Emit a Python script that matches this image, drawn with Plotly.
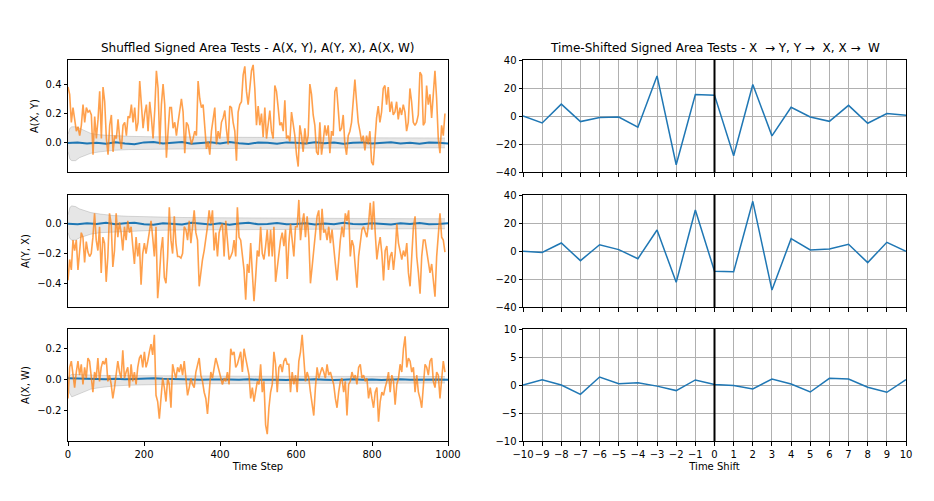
import numpy as np
import plotly.graph_objects as go

# ---------------- data ----------------
a_xy = [0.38, 0.33, 0.14, 0.24, 0.16, 0.08, 0.11, 0.05, 0.12, 0.26, 0.14, 0.24, 0.21, 0.22, 0.19, -0.08, 0.18, 0.03, 0.16, 0.35,
        0.03, 0.38, 0.28, 0.03, -0.08, 0.12, 0.19, -0.06, 0.05, 0.03, 0.16, 0.03, -0.04, 0.12, 0.14, 0.05, 0.18, 0.17, 0.26, 0.14,
        0.24, 0.08, 0.14, 0.42, 0.26, 0.10, 0.20, 0.26, 0.08, 0.28, 0.17, 0.03, 0.22, 0.49, 0.37, -0.01, 0.26, 0.40, 0.26, -0.10,
        0.08, 0.24, 0.24, 0.10, 0.14, 0.05, 0.14, 0.24, 0.30, 0.21, -0.07, 0.14, 0.12, 0.05, -0.01, 0.03, 0.08, 0.05, 0.42, 0.30,
        0.24, 0.26, 0.08, -0.04, 0.01, -0.08, 0.08, 0.17, 0.24, -0.01, 0.08, 0.03, 0.14, 0.17, 0.22, 0.09, -0.01, 0.25, 0.24, 0.14,
        0.08, -0.12, 0.21, 0.26, 0.28, 0.46, 0.52, 0.35, 0.26, 0.37, 0.49, 0.53,
        0.37, 0.12, 0.25, 0.12, 0.20, 0.04, 0.24, 0.03, 0.14, 0.22, 0.08, 0.03, 0.39, 0.35, 0.24, 0.12, 0.14, 0.08, 0.29, 0.03,
        0.05, 0.01, 0.21, 0.14, 0.05, -0.08, -0.16, 0.12, 0.05, -0.06, 0.10, -0.01, 0.05, 0.40, 0.33, 0.19, 0.12, -0.06, -0.08, 0.14,
        -0.08, 0.01, 0.12, 0.05, 0.12, -0.07, 0.08, 0.05, 0.35, 0.38, 0.21, 0.08, 0.10, 0.19, -0.01, -0.08, 0.05, 0.08, 0.14, 0.28,
        0.43, 0.28, 0.14, 0.08, 0.01, 0.05, -0.05, 0.05, -0.01, 0.08, -0.13, -0.15, 0.03, 0.17, 0.25, 0.14, 0.21, 0.37, 0.39, 0.26,
        0.38, 0.21, 0.28, 0.19, 0.21, 0.28, 0.16, 0.24, 0.19, 0.26, 0.21, 0.08, 0.14, 0.37, 0.28, 0.14, 0.12, 0.14, 0.19, 0.48,
        0.46, 0.12, 0.14, 0.39, 0.26, 0.33, 0.17, 0.35, 0.49, 0.30, 0.03, -0.07, 0.12, 0.05, 0.20]

a_yx = [-0.38, -0.24, -0.31, -0.11, -0.18, -0.11, -0.31, -0.15, -0.06, -0.09, -0.26, -0.12, -0.19, -0.22, -0.20, -0.09, 0.07, -0.11, -0.18, -0.02,
        -0.33, -0.09, -0.13, -0.39, -0.22, 0.07, 0.00, -0.29, -0.18, 0.07, -0.09, 0.01, -0.06, -0.18, -0.02, -0.11, 0.02, -0.06, -0.02, -0.15,
        -0.27, -0.09, -0.22, -0.13, -0.41, -0.20, -0.13, -0.20, -0.13, -0.06, 0.02, -0.09, -0.22, -0.02, -0.50, -0.36, -0.18, -0.09, -0.36, -0.40,
        -0.22, 0.11, -0.11, -0.20, 0.05, -0.13, -0.22, -0.22, -0.23, -0.20, -0.02, -0.04, -0.11, 0.02, -0.13, -0.02, 0.09, -0.06, -0.11, -0.42,
        -0.31, -0.24, -0.18, -0.11, -0.02, 0.09, 0.00, 0.09, -0.18, -0.06, -0.22, -0.06, -0.02, 0.00, -0.22, 0.02, -0.13, -0.24, -0.22, -0.19,
        -0.11, -0.22, 0.11, -0.09, -0.11, -0.22, -0.31, -0.51, -0.27, -0.33, -0.13, -0.33, -0.52,
        -0.36, -0.18, -0.22, -0.02, -0.20, -0.24, -0.15, -0.04, -0.22, -0.04, -0.22, -0.02, -0.39, -0.29, -0.22, -0.11, -0.06, -0.15, -0.04, -0.37,
        -0.13, 0.00, -0.11, -0.22, -0.02, -0.02, 0.16, -0.11, 0.00, 0.07, -0.09, 0.05, -0.09, -0.40, -0.29, -0.18, -0.06, 0.05, 0.09, -0.11,
        0.10, -0.06, -0.04, -0.11, -0.02, -0.13, -0.04, -0.18, -0.27, -0.38, -0.22, -0.11, -0.02, -0.09, 0.07, 0.02, 0.09, -0.22, -0.11, -0.15,
        -0.29, -0.43, -0.22, -0.11, -0.04, -0.02, -0.06, -0.09, 0.00, 0.14, -0.04, 0.15, -0.06, -0.24, -0.15, -0.09, -0.20, -0.38, -0.18, -0.15,
        -0.31, -0.22, -0.19, -0.31, -0.20, 0.00, -0.13, -0.20, -0.24, -0.18, -0.22, -0.13, -0.33, -0.42, -0.22, -0.02, 0.05, -0.22, -0.33, -0.47,
        -0.22, -0.11, -0.11, -0.18, -0.24, -0.33, -0.27, -0.38, -0.49, -0.22, -0.06, 0.07, -0.09, -0.11, -0.19]

a_xw = [-0.12, 0.08, 0.12, 0.03, -0.05, 0.05, 0.12, 0.03, 0.10, -0.03, 0.08, 0.01, 0.14, 0.12, 0.01, -0.08, 0.05, 0.01, 0.14, -0.01,
        0.08, 0.12, 0.10, 0.14, -0.01, 0.03, -0.03, -0.12, -0.05, 0.03, 0.12, 0.05, 0.01, 0.19, 0.01, 0.05, 0.08, -0.05, 0.10, -0.01,
        0.05, -0.03, 0.08, 0.14, 0.16, 0.08, 0.18, 0.08, 0.12, 0.18, 0.23, 0.16, 0.29, -0.10, -0.14, -0.25, -0.14, 0.01, -0.05, -0.14,
        0.01, -0.03, -0.18, 0.10, 0.05, 0.01, 0.08, 0.05, 0.10, 0.03, 0.12, 0.01, -0.10, -0.05, 0.01, -0.03, -0.05, 0.05, 0.10, 0.14,
        0.03, -0.01, -0.08, -0.12, -0.22, -0.08, 0.05, 0.01, 0.08, 0.14, 0.10, 0.05, 0.01, -0.03, 0.01, -0.01, 0.05, -0.03, 0.20, 0.16,
        0.18, 0.08, 0.10, 0.14, 0.18, 0.05, 0.20, 0.14, 0.08, 0.03, -0.12, -0.05, -0.14,
        -0.08, -0.01, -0.03, 0.10, -0.08, -0.01, -0.29, -0.35, -0.18, -0.08, -0.03, 0.18, 0.10, -0.08, 0.08, 0.10, 0.05, 0.12, 0.14, 0.10,
        0.10, -0.08, 0.05, -0.03, 0.03, -0.08, 0.12, 0.18, 0.29, 0.10, -0.01, 0.05, 0.01, -0.08, -0.16, -0.23, -0.05, 0.08, 0.01, 0.05,
        0.08, 0.05, 0.01, 0.10, 0.03, 0.05, 0.01, -0.03, -0.12, -0.18, -0.08, -0.01, 0.01, -0.08, -0.01, -0.23, -0.03, -0.01, 0.05, 0.01,
        0.03, -0.03, 0.08, 0.10, 0.01, 0.03, -0.01, 0.01, -0.12, -0.05, -0.12, -0.18, -0.08, -0.05, -0.27, -0.14, -0.08, -0.10, -0.05, -0.01,
        0.05, -0.08, 0.03, -0.01, -0.16, -0.03, 0.01, 0.10, 0.05, 0.20, 0.28, 0.08, 0.14, 0.12, 0.05, 0.08, -0.08, 0.03, -0.08, -0.12,
        -0.18, -0.03, 0.10, 0.08, 0.03, 0.12, 0.14, -0.01, -0.05, 0.05, 0.03, -0.12, 0.03, 0.12, 0.05]

# shuffled-mean (blue) lines, sampled every 25 steps
mean_t = list(range(0, 1001, 25))
mean_xy = [0.0, 0.003, -0.004, 0.002, -0.006, 0.005, -0.003, -0.008, 0.004, 0.007, -0.004, 0.002, 0.006, -0.006, 0.001, 0.005,
           -0.003, 0.006, -0.002, -0.007, 0.003, 0.002, -0.005, 0.004, 0.001, -0.004, 0.005, -0.002, 0.003, -0.006, 0.002, 0.004,
           -0.003, 0.001, 0.005, -0.004, 0.002, -0.005, 0.003, 0.001, -0.003]
mean_yx = [0.0, -0.003, 0.004, -0.002, 0.006, -0.004, 0.003, 0.007, -0.004, -0.006, 0.004, -0.002, -0.005, 0.006, -0.001, -0.005,
           0.003, -0.006, 0.002, 0.006, -0.003, -0.002, 0.005, -0.004, -0.001, 0.004, -0.005, 0.002, -0.003, 0.006, -0.002, -0.004,
           0.003, -0.001, -0.005, 0.004, -0.002, 0.005, -0.003, -0.001, 0.003]
mean_xw = [0.01, 0.008, 0.006, 0.005, 0.004, 0.006, 0.003, 0.005, 0.008, 0.01, 0.006, 0.004, 0.002, 0.003, 0.001, 0.002,
           0.0, 0.002, 0.001, 0.003, 0.0, 0.002, 0.001, -0.001, 0.002, 0.0, 0.003, 0.001, -0.002, 0.001, 0.003, 0.0,
           0.002, -0.001, 0.001, 0.003, 0.0, 0.002, 0.001, 0.002, 0.001]

# shuffled band (grey)
band_t = [0, 5, 10, 20, 30, 45, 60, 85, 120, 160, 220, 300, 400, 500, 600, 700, 800, 900, 992]
band_xy_hi = [0.06, 0.10, 0.11, 0.11, 0.10, 0.08, 0.065, 0.055, 0.05, 0.045, 0.042, 0.04, 0.038, 0.037, 0.036, 0.035, 0.035, 0.034, 0.034]
band_xy_lo = [-0.06, -0.11, -0.12, -0.12, -0.10, -0.085, -0.07, -0.06, -0.05, -0.045, -0.042, -0.04, -0.038, -0.036, -0.035, -0.034, -0.034, -0.033, -0.033]
band_yx_hi = [0.06, 0.11, 0.12, 0.115, 0.10, 0.085, 0.075, 0.065, 0.055, 0.05, 0.045, 0.042, 0.04, 0.038, 0.036, 0.035, 0.035, 0.034, 0.034]
band_yx_lo = [-0.06, -0.10, -0.11, -0.11, -0.095, -0.08, -0.07, -0.06, -0.055, -0.05, -0.045, -0.042, -0.04, -0.038, -0.036, -0.035, -0.035, -0.034, -0.034]
band_xw_hi = [0.02, 0.03, 0.035, 0.035, 0.033, 0.03, 0.03, 0.028, 0.027, 0.027, 0.026, 0.025, 0.024, 0.023, 0.022, 0.022, 0.021, 0.021, 0.021]
band_xw_lo = [-0.05, -0.09, -0.11, -0.10, -0.085, -0.07, -0.06, -0.05, -0.04, -0.035, -0.03, -0.027, -0.025, -0.024, -0.023, -0.022, -0.022, -0.021, -0.021]

shifts = list(range(-10, 11))
shift_xy = [0, -5, 8.5, -4, -1, -0.7, -8, 28.6, -34.8, 15.4, 14.9, -28.4, 22.5, -14.2, 6.2, -0.7, -3.8, 7.6, -5.2, 1.7, 0.5]
shift_yx = [-0.2, -1, 5.7, -6.9, 4.5, 1, -5.5, 15, -22.4, 29.3, -14.5, -14.8, 35.5, -27.9, 8.8, 0.7, 1.4, 4.8, -8.3, 6.2, -0.2]
shift_xw = [0, 0.95, 0, -1.67, 1.43, 0.24, 0.42, -0.2, -1.0, 0.9, 0.1, -0.1, -0.7, 1.07, 0.18, -1.25, 1.2, 1.07, -0.4, -1.3, 0.95]

left_labels = ["A(X, Y)", "A(Y, X)", "A(X, W)"]
left_ranges = [[-0.197, 0.563], [-0.559, 0.193], [-0.394, 0.327]]
left_ticks = [[0.0, 0.2, 0.4], [-0.4, -0.2, 0.0], [-0.2, 0.0, 0.2]]
right_ranges = [[-40, 40], [-40, 40], [-10, 10]]
right_dticks = [20, 20, 5]

# ---------------- figure ----------------
# the page body has an 8px margin, so the figure is sized to fit the 934x501 window
OFF = 8
W, H = 918, 485
BLUE = "#1f77b4"
ORANGE = "rgba(255,127,14,0.74)"
FONT = dict(family="DejaVu Sans", size=10, color="black")


def fx(p):
    return (p - OFF) / W


def fy(p):
    return 1 - (p - OFF) / H


fig = go.Figure()

series = [a_xy, a_yx, a_xw]
means = [mean_xy, mean_yx, mean_xw]
bands = [(band_xy_hi, band_xy_lo), (band_yx_hi, band_yx_lo), (band_xw_hi, band_xw_lo)]
shifted = [shift_xy, shift_yx, shift_xw]

rows_px = [(60, 172), (195, 307), (329, 441)]
left_px = (68, 448)
right_px = (523, 906)

layout = dict(width=W, height=H, margin=dict(l=0, r=0, t=0, b=0, autoexpand=False),
              paper_bgcolor="white", plot_bgcolor="white", showlegend=False,
              font=FONT)

common = dict(showline=True, linecolor="black", linewidth=1, mirror=True,
              ticklen=3.5, tickwidth=0.8, tickcolor="black",
              zeroline=False, tickfont=FONT, automargin=False)

shapes = []
for i in range(3):
    xa = "x" if i == 0 else f"x{i+1}"
    ya = "y" if i == 0 else f"y{i+1}"
    hi, lo = bands[i]
    fig.add_trace(go.Scatter(x=band_t, y=hi, mode="lines", xaxis=xa, yaxis=ya,
                             line=dict(color="rgba(128,128,128,0.35)", width=0.8), hoverinfo="skip"))
    fig.add_trace(go.Scatter(x=band_t, y=lo, mode="lines", xaxis=xa, yaxis=ya, fill="tonexty",
                             fillcolor="rgba(128,128,128,0.2)",
                             line=dict(color="rgba(128,128,128,0.35)", width=0.8), hoverinfo="skip"))
    fig.add_trace(go.Scatter(x=mean_t, y=means[i], mode="lines", xaxis=xa, yaxis=ya,
                             line=dict(color=BLUE, width=2)))
    t = np.linspace(0, 992, len(series[i]))
    fig.add_trace(go.Scatter(x=t, y=series[i], mode="lines", xaxis=xa, yaxis=ya,
                             line=dict(color=ORANGE, width=1.6)))

    top, bot = rows_px[i]
    ydom = [fy(bot), fy(top)]
    axname_x = "xaxis" if i == 0 else f"xaxis{i+1}"
    axname_y = "yaxis" if i == 0 else f"yaxis{i+1}"
    layout[axname_x] = dict(domain=[fx(left_px[0]), fx(left_px[1])], range=[0, 1000], anchor=ya,
                            tickvals=[0, 200, 400, 600, 800, 1000], showticklabels=(i == 2),
                            ticks="outside" if i == 2 else "",
                            showgrid=False, tickangle=0,
                            title=dict(text="Time Step" if i == 2 else "", font=FONT, standoff=4),
                            **common)
    layout[axname_y] = dict(domain=ydom, range=left_ranges[i], anchor=xa,
                            tickvals=left_ticks[i], tickformat=".1f", showgrid=False,
                            ticks="outside",
                            title=dict(text=left_labels[i], font=FONT, standoff=5),
                            **common)

    # right column
    j = i + 4
    xr, yr = f"x{j}", f"y{j}"
    fig.add_trace(go.Scatter(x=shifts, y=shifted[i], mode="lines", xaxis=xr, yaxis=yr,
                             line=dict(color=BLUE, width=1.5)))
    layout[f"xaxis{j}"] = dict(domain=[fx(right_px[0]), fx(right_px[1])], range=[-10, 10], anchor=yr,
                               tickmode="linear", tick0=-10, dtick=1, showticklabels=(i == 2),
                               ticks="outside", tickangle=0,
                               showgrid=True, gridcolor="#b0b0b0", gridwidth=0.8,
                               title=dict(text="Time Shift" if i == 2 else "", font=FONT, standoff=4),
                               **common)
    layout[f"yaxis{j}"] = dict(domain=ydom, range=right_ranges[i], anchor=xr,
                               tickmode="linear", tick0=right_ranges[i][0], dtick=right_dticks[i],
                               ticks="outside",
                               showgrid=True, gridcolor="#b0b0b0", gridwidth=0.8,
                               **common)
    shapes.append(dict(type="line", xref=xr, yref=f"y{j} domain", x0=0, x1=0, y0=0, y1=1,
                       line=dict(color="black", width=2)))

layout["shapes"] = shapes
layout["annotations"] = [
    dict(text="Shuffled Signed Area Tests - A(X, Y), A(Y, X), A(X, W)", xref="paper", yref="paper",
         x=fx((left_px[0] + left_px[1]) / 2), y=fy(57), xanchor="center", yanchor="bottom",
         showarrow=False, font=dict(family="DejaVu Sans", size=12, color="black")),
    dict(text="Time-Shifted Signed Area Tests - X  \u2192 Y, Y \u2192  X, X \u2192  W", xref="paper", yref="paper",
         x=fx((right_px[0] + right_px[1]) / 2), y=fy(57), xanchor="center", yanchor="bottom",
         showarrow=False, font=dict(family="DejaVu Sans", size=12, color="black")),
]
fig.update_layout(**layout)
fig.write_html("out.html")
